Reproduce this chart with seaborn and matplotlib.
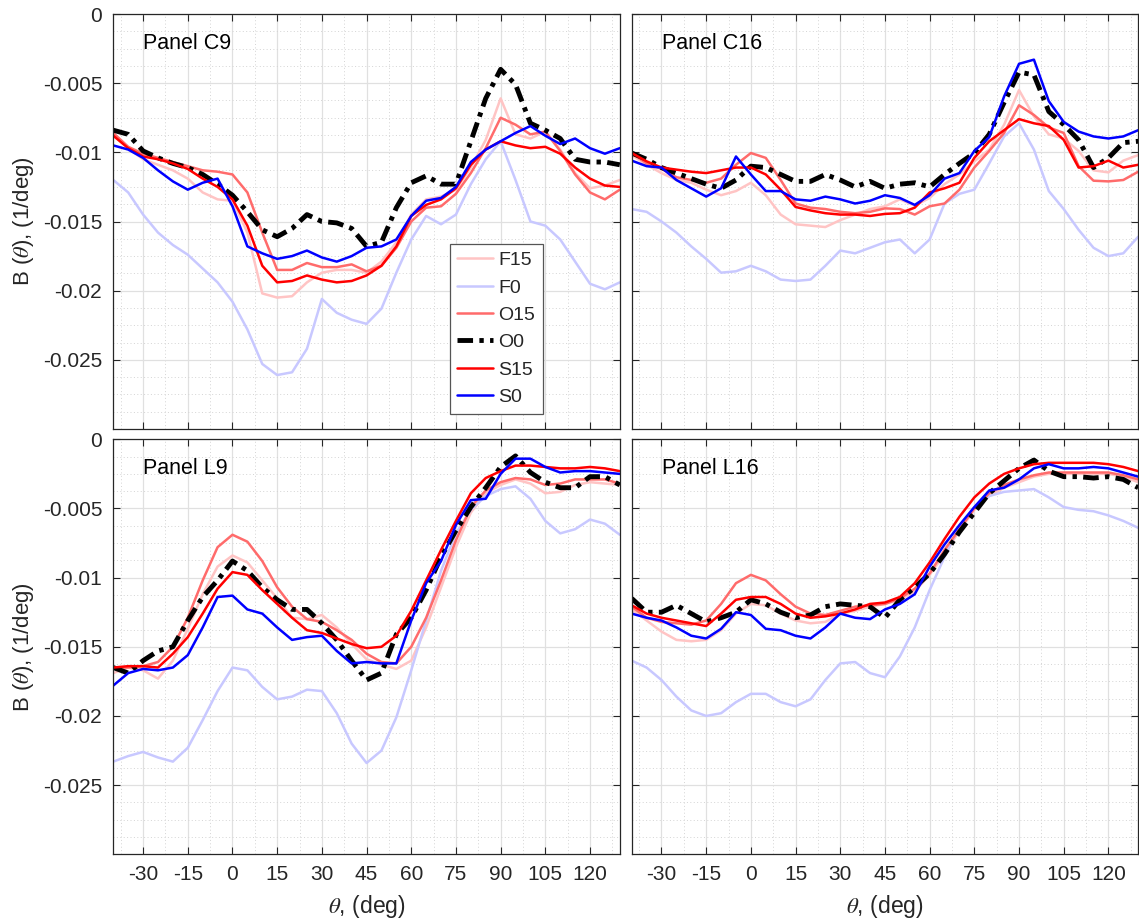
import numpy as np
import pandas as pd
import matplotlib
matplotlib.use("Agg")
import matplotlib.pyplot as plt
import seaborn as sns
from matplotlib.ticker import MultipleLocator, FixedLocator, FixedFormatter

# ---------------- data (values in units of 1e-3 1/deg) ----------------
theta = list(range(-40, 131, 5))

series_names = ["F15", "F0", "O15", "O0", "S15", "S0"]
panel_names = ["Panel C9", "Panel C16", "Panel L9", "Panel L16"]

C9_F15 = [-8.7, -9.7, -10.5, -10.9, -11.3, -11.9, -12.9, -13.4, -13.5, -15.8, -20.2, -20.5, -20.4, -19.4, -18.7, -18.5, -18.5, -18.7, -17.9, -16.5, -14.5, -13.4, -13.2, -12.7, -11.1, -9.1, -6.1, -8.7, -9.0, -8.5, -9.8, -11.5, -12.6, -12.4, -12.0]
C9_F0 = [-12.0, -12.9, -14.5, -15.8, -16.7, -17.4, -18.4, -19.4, -20.8, -22.8, -25.3, -26.1, -25.9, -24.2, -20.6, -21.6, -22.1, -22.4, -21.3, -18.7, -16.3, -14.6, -15.2, -14.5, -12.3, -10.5, -9.2, -12.0, -15.0, -15.3, -16.3, -17.9, -19.5, -19.9, -19.4]
C9_O15 = [-8.6, -9.6, -10.1, -10.4, -10.7, -11.0, -11.3, -11.4, -11.6, -12.9, -15.8, -18.5, -18.5, -18.0, -18.3, -18.3, -18.1, -18.6, -18.2, -16.9, -15.0, -14.0, -13.9, -13.0, -11.5, -9.7, -7.5, -8.0, -8.7, -8.5, -9.9, -11.6, -12.9, -13.4, -12.7]
C9_O0 = [-8.4, -8.7, -9.9, -10.4, -10.8, -11.1, -11.6, -12.3, -13.1, -14.3, -15.6, -16.1, -15.5, -14.5, -15.0, -15.1, -15.5, -16.8, -16.5, -14.0, -12.2, -11.7, -12.3, -12.3, -9.2, -6.1, -4.0, -5.1, -7.9, -8.4, -9.0, -10.5, -10.7, -10.7, -10.9]
C9_S15 = [-8.8, -9.7, -10.3, -10.5, -10.8, -11.2, -11.9, -12.5, -13.4, -15.3, -18.2, -19.4, -19.3, -18.9, -19.2, -19.4, -19.3, -18.9, -18.2, -16.8, -14.6, -13.8, -13.4, -12.6, -10.9, -9.8, -9.2, -9.5, -9.7, -9.6, -10.1, -11.1, -11.9, -12.4, -12.5]
C9_S0 = [-9.5, -9.8, -10.4, -11.3, -12.1, -12.7, -12.2, -11.9, -13.9, -16.8, -17.3, -17.7, -17.5, -17.1, -17.6, -17.9, -17.5, -16.9, -16.8, -16.3, -14.6, -13.5, -13.3, -12.5, -10.7, -9.8, -9.2, -8.6, -8.1, -8.8, -9.4, -9.0, -9.7, -10.1, -9.7]

C16_F15 = [-10.2, -10.9, -11.5, -12.0, -12.2, -12.7, -13.1, -12.8, -12.2, -13.1, -14.5, -15.2, -15.3, -15.4, -14.9, -14.5, -14.1, -13.9, -13.4, -13.85, -13.3, -12.3, -11.6, -10.65, -9.8, -8.0, -5.5, -7.4, -8.7, -9.0, -9.9, -11.3, -11.45, -10.6, -10.2]
C16_F0 = [-14.1, -14.3, -15.0, -15.8, -16.8, -17.7, -18.7, -18.6, -18.2, -18.6, -19.2, -19.3, -19.2, -18.2, -17.1, -17.3, -16.9, -16.5, -16.3, -17.3, -16.3, -13.7, -13.0, -12.7, -10.8, -8.85, -7.9, -9.8, -12.8, -14.1, -15.6, -16.9, -17.5, -17.3, -16.1]
C16_O15 = [-10.05, -10.8, -11.2, -11.8, -12.0, -12.2, -11.9, -10.9, -10.05, -10.4, -12.0, -13.7, -14.0, -14.1, -14.3, -14.4, -14.3, -14.05, -14.1, -14.5, -13.9, -13.7, -12.7, -11.1, -9.9, -8.6, -6.6, -7.3, -8.2, -8.6, -11.0, -12.05, -12.1, -12.0, -11.4]
C16_O0 = [-10.05, -10.5, -11.1, -11.5, -11.9, -12.3, -12.6, -12.0, -11.0, -11.1, -11.6, -12.1, -12.1, -11.6, -12.0, -12.5, -12.1, -12.6, -12.3, -12.2, -12.5, -11.6, -10.8, -10.05, -8.7, -6.4, -4.2, -4.4, -7.05, -8.0, -9.1, -11.1, -10.4, -9.3, -9.2]
C16_S15 = [-10.05, -10.65, -11.1, -11.25, -11.4, -11.5, -11.3, -11.1, -11.1, -11.6, -12.7, -13.95, -14.2, -14.4, -14.5, -14.5, -14.6, -14.45, -14.4, -14.0, -12.9, -12.6, -12.2, -10.4, -9.2, -8.4, -7.6, -7.9, -8.1, -9.1, -11.1, -11.0, -10.6, -11.1, -10.9]
C16_S0 = [-10.6, -11.0, -11.1, -12.0, -12.6, -13.2, -12.6, -10.3, -11.6, -12.8, -12.8, -13.4, -13.5, -13.2, -13.4, -13.7, -13.5, -13.1, -13.3, -13.8, -13.1, -11.9, -11.5, -9.9, -8.9, -5.96, -3.6, -3.3, -6.3, -7.8, -8.5, -8.85, -9.0, -8.85, -8.4]

L9_F15 = [-16.9, -16.5, -16.7, -17.3, -16.0, -13.7, -11.2, -9.2, -8.4, -8.9, -10.2, -11.5, -12.9, -13.0, -12.7, -13.6, -14.8, -15.9, -16.3, -16.6, -16.0, -13.6, -10.7, -7.8, -5.3, -3.9, -3.3, -2.9, -3.2, -3.9, -3.8, -3.3, -3.1, -3.2, -3.3]
L9_F0 = [-23.3, -22.9, -22.6, -23.0, -23.3, -22.3, -20.3, -18.2, -16.5, -16.7, -17.9, -18.8, -18.6, -18.1, -18.2, -19.8, -22.0, -23.4, -22.5, -20.1, -16.7, -13.1, -9.5, -6.8, -5.1, -4.1, -3.6, -3.4, -4.3, -5.9, -6.8, -6.5, -5.8, -6.1, -6.9]
L9_O15 = [-16.5, -16.5, -16.4, -16.1, -15.0, -12.9, -10.2, -7.8, -6.9, -7.4, -8.8, -10.7, -12.1, -13.0, -13.2, -13.8, -14.5, -15.5, -16.1, -16.2, -15.0, -12.9, -10.2, -7.3, -4.9, -3.7, -3.1, -2.8, -2.9, -3.3, -3.2, -2.9, -2.9, -2.9, -3.2]
L9_O0 = [-16.5, -16.9, -16.0, -15.3, -15.0, -13.1, -11.4, -10.2, -8.8, -9.5, -10.7, -11.6, -12.3, -12.3, -13.3, -14.5, -16.0, -17.4, -16.9, -14.1, -12.9, -10.9, -8.5, -6.6, -4.9, -3.5, -2.0, -1.2, -2.4, -3.1, -3.5, -3.5, -2.7, -2.7, -3.3]
L9_S15 = [-16.5, -16.4, -16.4, -16.5, -15.5, -14.3, -12.6, -10.8, -9.6, -9.8, -10.9, -11.9, -12.9, -13.8, -14.0, -14.4, -14.8, -15.1, -15.0, -14.2, -12.4, -10.2, -8.0, -5.9, -3.9, -2.8, -2.3, -1.9, -1.9, -2.0, -2.1, -2.1, -2.0, -2.1, -2.3]
L9_S0 = [-17.8, -16.9, -16.6, -16.7, -16.5, -15.6, -13.6, -11.4, -11.3, -12.3, -12.6, -13.6, -14.5, -14.3, -14.2, -15.3, -16.2, -16.1, -16.2, -16.2, -13.1, -10.4, -8.8, -6.2, -4.4, -4.3, -2.5, -1.4, -1.4, -2.0, -2.4, -2.3, -2.3, -2.4, -2.5]

L16_F15 = [-12.3, -13.1, -13.9, -14.5, -14.6, -14.5, -13.8, -12.6, -11.9, -12.0, -12.6, -13.1, -13.3, -13.2, -12.6, -12.4, -12.1, -11.9, -11.6, -11.0, -9.8, -8.3, -6.6, -5.1, -4.1, -3.5, -3.1, -2.7, -2.5, -2.5, -2.5, -2.5, -2.5, -2.7, -3.1]
L16_F0 = [-16.0, -16.5, -17.4, -18.6, -19.6, -20.0, -19.8, -19.0, -18.4, -18.4, -19.0, -19.3, -18.8, -17.4, -16.2, -16.1, -16.9, -17.2, -15.7, -13.6, -10.9, -8.5, -6.3, -4.9, -4.1, -3.8, -3.7, -3.6, -4.2, -4.9, -5.1, -5.2, -5.5, -5.9, -6.4]
L16_O15 = [-12.1, -12.9, -13.2, -13.3, -13.4, -13.1, -11.9, -10.4, -9.8, -10.2, -11.2, -12.1, -12.6, -12.7, -12.4, -12.1, -12.0, -11.9, -11.5, -10.8, -9.7, -8.0, -6.5, -5.0, -3.9, -3.3, -2.9, -2.6, -2.4, -2.4, -2.4, -2.4, -2.4, -2.6, -2.9]
L16_O0 = [-11.5, -12.5, -12.5, -12.0, -12.6, -13.2, -12.9, -12.5, -11.6, -11.9, -12.5, -12.9, -12.7, -12.1, -11.9, -12.0, -12.1, -12.9, -11.6, -10.7, -9.7, -8.3, -6.7, -5.3, -3.9, -3.0, -2.1, -1.5, -2.3, -2.7, -2.7, -2.8, -2.7, -2.9, -3.5]
L16_S15 = [-12.0, -12.6, -12.9, -13.1, -13.3, -13.5, -12.6, -11.6, -11.4, -11.4, -11.9, -12.6, -12.9, -12.8, -12.6, -12.3, -11.9, -11.8, -11.4, -10.4, -8.9, -7.2, -5.6, -4.2, -3.2, -2.5, -2.1, -1.8, -1.7, -1.7, -1.7, -1.7, -1.8, -2.0, -2.3]
L16_S0 = [-12.6, -12.9, -13.1, -13.6, -14.2, -14.4, -13.7, -12.5, -12.7, -13.7, -13.8, -14.2, -14.4, -13.6, -12.6, -12.9, -13.0, -12.3, -11.9, -11.2, -9.2, -7.6, -6.2, -4.9, -3.7, -3.5, -2.9, -2.1, -1.8, -2.1, -2.1, -2.0, -2.1, -2.4, -2.7]

x_ticks = [-30, -15, 0, 15, 30, 45, 60, 75, 90, 105, 120]
y_ticks = [0, -0.005, -0.01, -0.015, -0.02, -0.025]
y_ticklabels = ["0", "-0.005", "-0.01", "-0.015", "-0.02", "-0.025"]

panels = {
    "Panel C9": [C9_F15, C9_F0, C9_O15, C9_O0, C9_S15, C9_S0],
    "Panel C16": [C16_F15, C16_F0, C16_O15, C16_O0, C16_S15, C16_S0],
    "Panel L9": [L9_F15, L9_F0, L9_O15, L9_O0, L9_S15, L9_S0],
    "Panel L16": [L16_F15, L16_F0, L16_O15, L16_O0, L16_S15, L16_S0],
}

# ---------------- styles ----------------
styles = {
    "F15": dict(color="#ffc4c4", lw=1.8, ls="-"),
    "F0": dict(color="#c8c8ff", lw=1.8, ls="-"),
    "O15": dict(color="#ff6b6b", lw=1.8, ls="-"),
    "O0": dict(color="#000000", lw=3.5, ls=(0, (3.2, 1.3, 0.9, 1.3))),
    "S15": dict(color="#ff0000", lw=1.8, ls="-"),
    "S0": dict(color="#0000ff", lw=1.8, ls="-"),
}

sns.set_theme(style="white")
plt.rcParams["font.family"] = ["Liberation Sans", "DejaVu Sans"]
plt.rcParams["mathtext.fontset"] = "stix"
plt.rcParams["axes.unicode_minus"] = False

fig = plt.figure(figsize=(11.39, 9.24), dpi=100)
W, H = 1139, 924
lefts = [113.3, 631.7]
tops = [14.0, 439.3]
aw, ah = 506.5, 415.0
text_col = "#262626"

axes = []
for r in range(2):
    for c in range(2):
        ax = fig.add_axes([lefts[c] / W, 1 - (tops[r] + ah) / H, aw / W, ah / H])
        axes.append((ax, r, c))

for (ax, r, c), pname in zip(axes, panel_names):
    vals = panels[pname]
    df = pd.DataFrame({"theta": theta})
    for name, v in zip(series_names, vals):
        df[name] = np.array(v) * 1e-3
    for name in series_names:
        st = styles[name]
        sns.lineplot(data=df, x="theta", y=name, ax=ax, color=st["color"],
                     linewidth=st["lw"], linestyle=st["ls"], label=name,
                     legend=False, sort=False)
    ax.set_xlim(-40, 130)
    ax.set_ylim(-0.03, 0)
    ax.xaxis.set_major_locator(FixedLocator(x_ticks))
    ax.xaxis.set_minor_locator(MultipleLocator(7.5))
    ax.yaxis.set_major_locator(FixedLocator(y_ticks))
    ax.yaxis.set_minor_locator(MultipleLocator(0.00125))
    ax.grid(which="major", color="#e0e0e0", lw=0.9, ls="-")
    ax.grid(which="minor", color="#d4d4d4", lw=0.7, ls=(0, (1, 2.5)))
    ax.set_axisbelow(True)
    ax.tick_params(which="major", direction="in", length=5, width=0.8,
                   top=True, right=True, bottom=True, left=True,
                   labelsize=15, colors=text_col, pad=8)
    ax.tick_params(which="minor", length=0)
    for sp in ax.spines.values():
        sp.set_color(text_col)
        sp.set_linewidth(0.9)
    ax.text(0.059, 0.93, pname, transform=ax.transAxes, fontsize=15.5,
            color="black", va="center", ha="left")
    if c == 0:
        ax.yaxis.set_major_formatter(FixedFormatter(y_ticklabels))
        ax.set_ylabel(r"B ($\theta$), (1/deg)", fontsize=16, color=text_col, labelpad=5)
    else:
        ax.set_yticklabels([])
        ax.set_ylabel("")
    if r == 1:
        ax.set_xticklabels([str(t) for t in x_ticks])
        ax.set_xlabel(r"$\theta$, (deg)", fontsize=16.5, color=text_col, labelpad=6)
    else:
        ax.set_xticklabels([])
        ax.set_xlabel("")
    if pname == "Panel C9":
        leg = ax.legend(loc="lower left", bbox_to_anchor=(0.664, 0.037),
                        fontsize=14, frameon=True, fancybox=False,
                        edgecolor="#555555", framealpha=1, handlelength=1.85,
                        labelspacing=0.5, borderpad=0.4, handletextpad=0.25,
                        borderaxespad=0)
        leg.get_frame().set_linewidth(0.9)

fig.savefig("out.png", dpi=100)
